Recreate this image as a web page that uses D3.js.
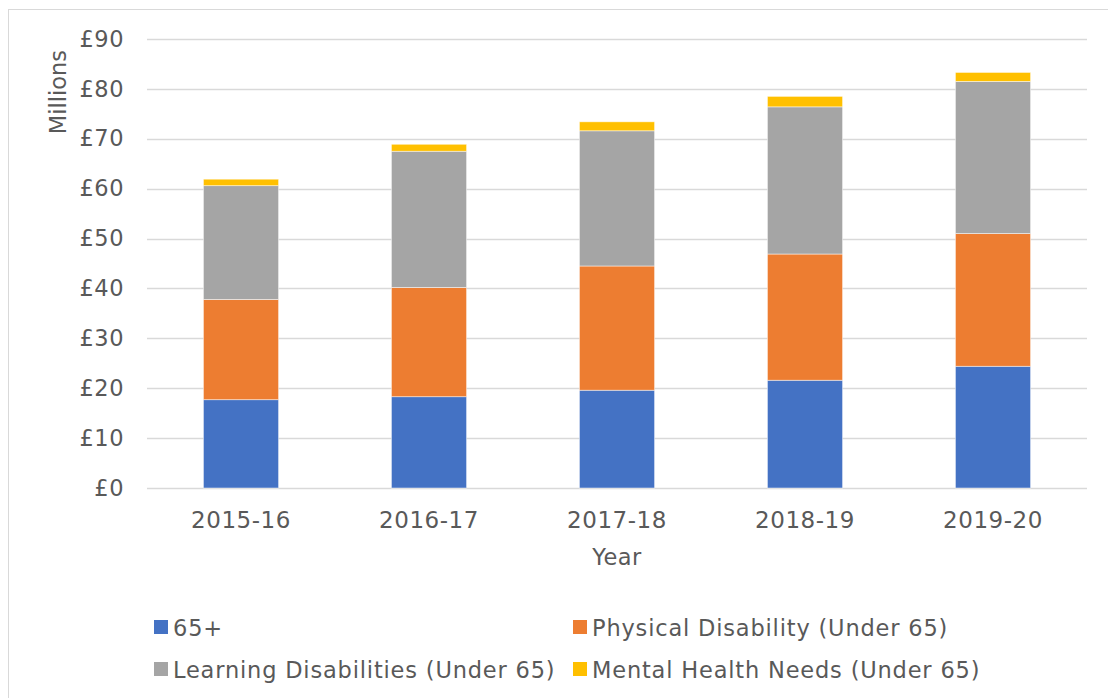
<!DOCTYPE html>
<html>
<head>
<meta charset="utf-8">
<script src="https://cdn.jsdelivr.net/npm/d3@7"></script>
<style>
  html, body { margin: 0; padding: 0; background: #fff; }
  svg text { font-family: "DejaVu Sans", Verdana, sans-serif; fill: #595959; }
</style>
</head>
<body>
<svg id="chart" width="1108" height="698"></svg>
<script>
const years = ["2015-16", "2016-17", "2017-18", "2018-19", "2019-20"];
const seriesNames = ["65+", "Physical Disability (Under 65)", "Learning Disabilities (Under 65)", "Mental Health Needs (Under 65)"];
const over65 = [17.7, 18.3, 19.6, 21.6, 24.4];
const physicalDisability = [20.1, 21.9, 24.9, 25.3, 26.6];
const learningDisabilities = [22.8, 27.3, 27.1, 29.5, 30.5];
const mentalHealth = [1.3, 1.4, 1.8, 2.1, 1.8];
const yTicks = [0, 10, 20, 30, 40, 50, 60, 70, 80, 90];
const colors = ["#4472C4", "#ED7D31", "#A5A5A5", "#FFC000"];

const seriesValues = [over65, physicalDisability, learningDisabilities, mentalHealth];
const rows = years.map((yr, i) => {
  const r = { year: yr };
  seriesNames.forEach((s, j) => r[s] = seriesValues[j][i]);
  return r;
});
const stacked = d3.stack().keys(seriesNames)(rows);

const svg = d3.select("#chart");
const plotLeft = 147, plotRight = 1087, plotTop = 39, plotBottom = 488;

// outer border
svg.append("rect").attr("x", 8.5).attr("y", 9.5).attr("width", 1120).attr("height", 720)
  .attr("fill", "none").attr("stroke", "#d9d9d9").attr("stroke-width", 1);

const x = d3.scaleBand().domain(years).range([plotLeft, plotRight]).paddingInner(0.6).paddingOuter(0.3);
const y = d3.scaleLinear().domain([0, 90]).range([plotBottom, plotTop]);

// gridlines
svg.append("g").selectAll("line").data(yTicks).join("line")
  .attr("x1", plotLeft).attr("x2", plotRight)
  .attr("y1", d => Math.round(y(d)) + 0.5).attr("y2", d => Math.round(y(d)) + 0.5)
  .attr("stroke", "#d9d9d9").attr("stroke-width", 1.5);

// y axis labels
const yAxis = d3.axisLeft(y).tickValues(yTicks).tickFormat(d => "£" + d).tickSize(0).tickPadding(23);
const gy = svg.append("g").attr("transform", `translate(${plotLeft},0)`).call(yAxis);
gy.select(".domain").remove();
gy.selectAll("text").style("font-size", "22.5px").attr("fill", "#595959")
  .style("letter-spacing", "0.5px")
  .style("font-family", "'DejaVu Sans', Verdana, sans-serif");

// bars
svg.append("g").selectAll("g").data(stacked).join("g")
  .attr("fill", (d, i) => colors[i])
  .selectAll("rect").data(d => d).join("rect")
  .attr("x", d => x(d.data.year))
  .attr("width", x.bandwidth())
  .attr("y", d => y(d[1]))
  .attr("height", d => y(d[0]) - y(d[1]))
  .attr("stroke", "#ffffff").attr("stroke-width", 0.8).attr("stroke-opacity", 0.6);

// x axis labels
const xAxis = d3.axisBottom(x).tickSize(0).tickPadding(24);
const gx = svg.append("g").attr("transform", `translate(0,${plotBottom})`).call(xAxis);
gx.select(".domain").remove();
gx.selectAll("text").style("font-size", "23px").attr("fill", "#595959")
  .style("letter-spacing", "0.55px")
  .style("font-family", "'DejaVu Sans', Verdana, sans-serif");

// axis titles
svg.append("text").attr("x", (plotLeft + plotRight) / 2).attr("y", 565)
  .attr("text-anchor", "middle").style("font-size", "22.5px").style("letter-spacing", "0.5px").text("Year");
svg.append("text").attr("transform", "translate(66,50) rotate(-90)")
  .attr("text-anchor", "end").style("font-size", "22.5px").text("Millions");

// legend
const legendPos = [[154, 628], [573, 628], [154, 670], [573, 670]];
const lg = svg.append("g").selectAll("g").data(seriesNames).join("g")
  .attr("transform", (d, i) => `translate(${legendPos[i][0]},${legendPos[i][1]})`);
lg.append("rect").attr("x", 0).attr("y", -8).attr("width", 14).attr("height", 14)
  .attr("fill", (d, i) => colors[i]);
lg.append("text").attr("x", 19).attr("y", 8).style("font-size", "22.5px")
  .style("letter-spacing", "0.82px").text(d => d);
</script>
</body>
</html>
